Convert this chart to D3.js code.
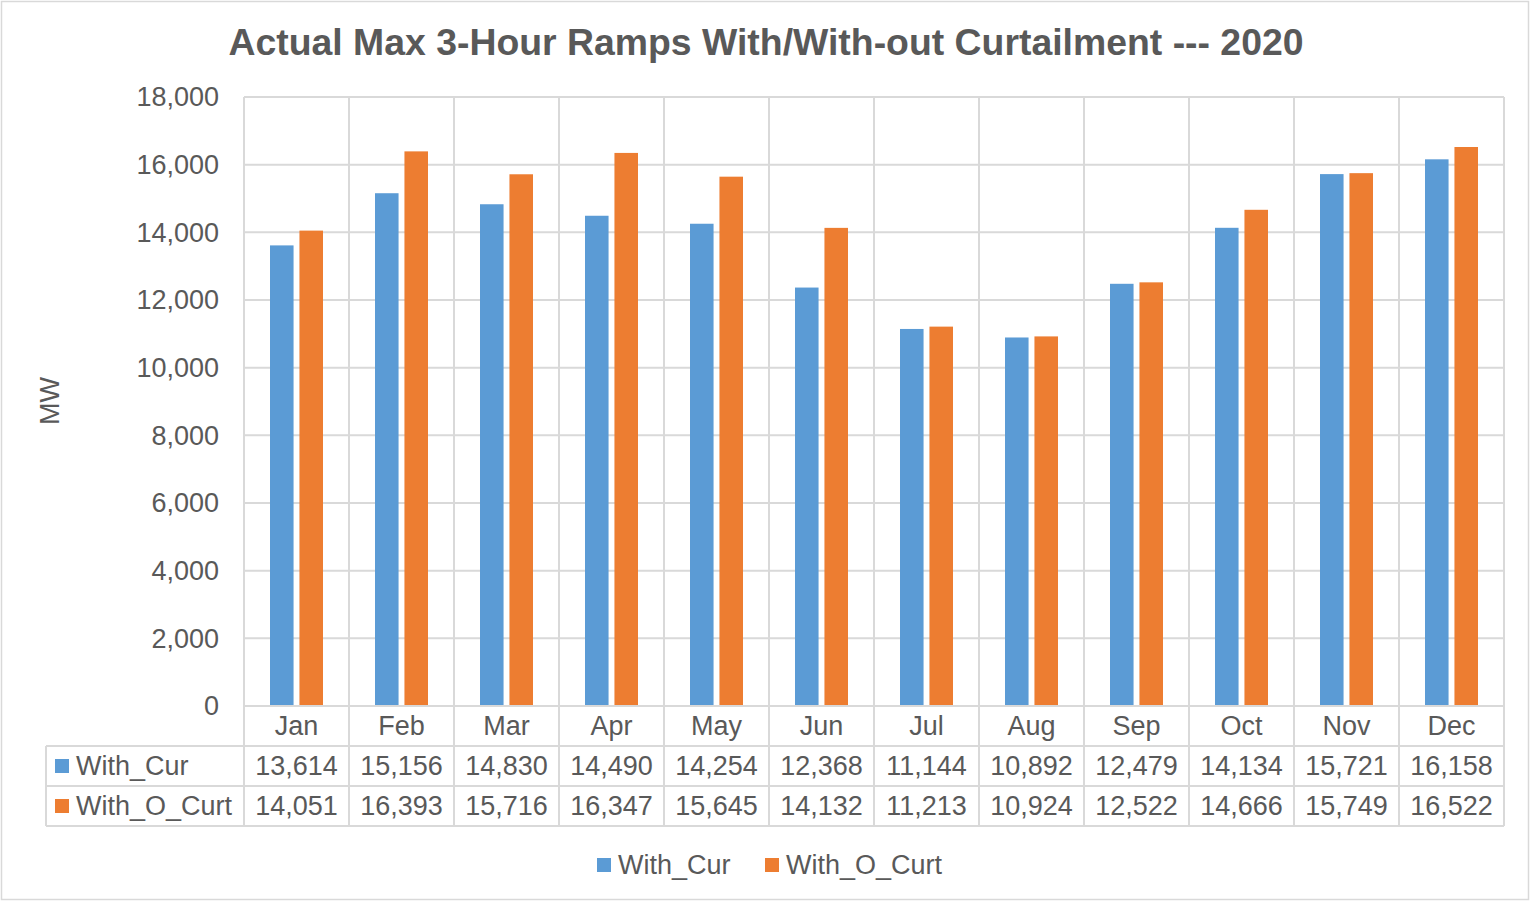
<!DOCTYPE html>
<html><head><meta charset="utf-8">
<script src="https://cdn.jsdelivr.net/npm/d3@7/dist/d3.min.js"></script>
<style>body{margin:0;background:#fff}svg{display:block;font-family:"Liberation Sans",Arial,sans-serif}</style>
</head><body>
<svg id="c" width="1530" height="901"></svg>
<script>
const months = ["Jan","Feb","Mar","Apr","May","Jun","Jul","Aug","Sep","Oct","Nov","Dec"];
const seriesNames = ["With_Cur","With_O_Curt"];
const withCur = [13614,15156,14830,14490,14254,12368,11144,10892,12479,14134,15721,16158];
const withOCurt = [14051,16393,15716,16347,15645,14132,11213,10924,12522,14666,15749,16522];
const yTicks = [0,2000,4000,6000,8000,10000,12000,14000,16000,18000];
const titleText = "Actual Max 3-Hour Ramps With/With-out Curtailment --- 2020";
const yLabel = "MW";
const colors = ["#5B9BD5","#ED7D31"];
const seriesValues = [withCur, withOCurt];

const svg = d3.select("#c");
const grid = "#d9d9d9", txt = "#595959";
const L = 244, R = 1504, T = 97, B = 706;
const rowH = 40, tableLeft = 46;
const fs = 27;

svg.append("rect").attr("x",1.5).attr("y",1.5).attr("width",1527).attr("height",898)
  .attr("fill","#fff").attr("stroke",grid).attr("stroke-width",1.5);

const x0 = d3.scaleBand().domain(months).range([L,R]).padding(0);
const x1 = d3.scaleBand().domain(seriesNames).range([26,79]).paddingInner(0.2);
const y = d3.scaleLinear().domain([0,18000]).range([B,T]);

// horizontal gridlines
svg.append("g").selectAll("line").data(yTicks).join("line")
  .attr("x1",L).attr("x2",R).attr("y1",d=>y(d)).attr("y2",d=>y(d))
  .attr("stroke",grid).attr("stroke-width",2);

// vertical lines (plot + table)
const bounds = months.map(m=>x0(m)).concat([R]);
svg.append("g").selectAll("line").data(bounds).join("line")
  .attr("x1",d=>d).attr("x2",d=>d).attr("y1",T).attr("y2",B+rowH*3)
  .attr("stroke",grid).attr("stroke-width",2);

// table horizontal lines
svg.append("g").selectAll("line").data([1,2,3]).join("line")
  .attr("x1",tableLeft).attr("x2",R)
  .attr("y1",d=>B+rowH*d).attr("y2",d=>B+rowH*d)
  .attr("stroke",grid).attr("stroke-width",2);
svg.append("line").attr("x1",tableLeft).attr("x2",tableLeft).attr("y1",B+rowH).attr("y2",B+rowH*3)
  .attr("stroke",grid).attr("stroke-width",2);

// bars
const data = months.map((m,i)=>({m, vals: seriesNames.map((s,j)=>({s, j, v: seriesValues[j][i]}))}));
svg.append("g").selectAll("g").data(data).join("g")
  .attr("transform",d=>`translate(${x0(d.m)},0)`)
  .selectAll("rect").data(d=>d.vals).join("rect")
  .attr("x",d=>x1(d.s)).attr("width",x1.bandwidth())
  .attr("y",d=>y(d.v)).attr("height",d=>B-y(d.v))
  .attr("fill",d=>colors[d.j]);

// zero axis line
svg.append("line").attr("x1",L).attr("x2",R).attr("y1",B).attr("y2",B).attr("stroke",grid).attr("stroke-width",2);

// y tick labels
const fmt = d3.format(",");
svg.append("g").selectAll("text").data(yTicks).join("text")
  .attr("x",219).attr("y",d=>y(d)).attr("dy","0.35em").attr("text-anchor","end")
  .attr("font-size",fs).attr("fill",txt).text(d=>fmt(d));

// category labels
svg.append("g").selectAll("text").data(months).join("text")
  .attr("x",d=>x0(d)+x0.bandwidth()/2).attr("y",B+rowH/2).attr("dy","0.35em")
  .attr("text-anchor","middle").attr("font-size",fs).attr("fill",txt).text(d=>d);

// table rows
seriesNames.forEach((s,j)=>{
  const cy = B + rowH*(j+1) + rowH/2;
  svg.append("rect").attr("x",55).attr("y",cy-7).attr("width",14).attr("height",14).attr("fill",colors[j]);
  svg.append("text").attr("x",76).attr("y",cy).attr("dy","0.35em").attr("font-size",fs).attr("fill",txt).text(s);
  svg.append("g").selectAll("text").data(seriesValues[j]).join("text")
    .attr("x",(d,i)=>x0(months[i])+x0.bandwidth()/2).attr("y",cy).attr("dy","0.35em")
    .attr("text-anchor","middle").attr("font-size",fs).attr("fill",txt).text(d=>fmt(d));
});

// legend
const legX = [597, 765];
seriesNames.forEach((s,j)=>{
  svg.append("rect").attr("x",legX[j]).attr("y",858).attr("width",14).attr("height",14).attr("fill",colors[j]);
  svg.append("text").attr("x",legX[j]+21).attr("y",865).attr("dy","0.35em").attr("font-size",fs).attr("fill",txt).text(s);
});

// title
svg.append("text").attr("x",766).attr("y",55).attr("text-anchor","middle")
  .attr("font-size",37).attr("font-weight","bold").attr("fill",txt)
  .attr("textLength",1075).attr("lengthAdjust","spacingAndGlyphs").text(titleText);

// y label
svg.append("text").attr("transform","translate(50,401) rotate(-90)").attr("dy","0.35em")
  .attr("text-anchor","middle").attr("font-size",fs).attr("fill",txt).text(yLabel);
</script>
</body></html>
